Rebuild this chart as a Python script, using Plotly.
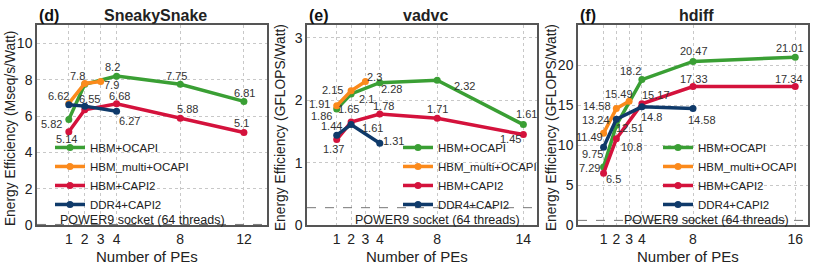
import plotly.graph_objects as go

# series names
series = ["HBM+OCAPI", "HBM_multi+OCAPI", "HBM+CAPI2", "DDR4+CAPI2"]
colors = ["#3a9f34", "#fb8a1c", "#d4123c", "#0f3a6a"]

# (d) SneakySnake
sneaky_x = [[1, 2, 4, 8, 12], [1, 2, 3], [1, 2, 4, 8, 12], [1, 2, 4]]
sneaky_y = [[5.82, 7.75, 8.2, 7.75, 6.81], [6.7, 7.8, 7.9],
            [5.14, 6.35, 6.68, 5.88, 5.1], [6.62, 6.55, 6.27]]
sneaky_lbl = [["5.82", "", "8.2", "7.75", "6.81"], ["", "7.8", "7.9"],
              ["5.14", "", "6.68", "5.88", "5.1"], ["6.62", "6.55", "6.27"]]

# (e) vadvc
vadvc_x = [[1, 2, 4, 8, 14], [1, 2, 3], [1, 2, 4, 8, 14], [1, 2, 4]]
vadvc_y = [[1.86, 2.1, 2.28, 2.32, 1.61], [1.91, 2.15, 2.3],
           [1.37, 1.65, 1.78, 1.71, 1.45], [1.44, 1.61, 1.31]]
vadvc_lbl = [["1.86", "2.1", "2.28", "2.32", "1.61"], ["1.91", "2.15", "2.3"],
             ["1.37", "1.65", "1.78", "1.71", "1.45"], ["1.44", "1.61", "1.31"]]

# (f) hdiff
hdiff_x = [[1, 2, 4, 8, 16], [1, 2, 3], [1, 2, 4, 8, 16], [1, 2, 4, 8]]
hdiff_y = [[7.29, 12.51, 18.2, 20.47, 21.01], [11.49, 14.58, 15.49],
           [6.5, 10.8, 15.17, 17.33, 17.34], [9.75, 13.24, 14.8, 14.58]]
hdiff_lbl = [["7.29", "12.51", "18.2", "20.47", "21.01"], ["11.49", "14.58", "15.49"],
             ["6.5", "10.8", "15.17", "17.33", "17.34"], ["9.75", "13.24", "14.8", "14.58"]]

# POWER9 socket baseline (64 threads)
power9 = [0.04, 0.28, 0.6]

panels = ["(d)", "(e)", "(f)"]
titles = ["SneakySnake", "vadvc", "hdiff"]
ylabels = ["Energy Efficiency (Mseq/s/Watt)", "Energy Efficiency (GFLOPS/Watt)",
           "Energy Efficiency (GFLOPS/Watt)"]
xticks = [[1, 2, 3, 4, 8, 12], [1, 2, 3, 4, 8, 14], [1, 2, 3, 4, 8, 16]]
yticks = [[0, 2, 4, 6, 8, 10], [0, 1, 2, 3], [0, 5, 10, 15, 20]]

# value label offsets in pixels (dx right, dy down) -- style only
offsets = [
    [[(-17, 5), (0, 0), (-4, -9), (-4, -8), (1, -8)],
     [(0, 0), (-7, -7), (11, 3)],
     [(-2, 7), (0, 0), (3, -8), (7, -9), (-2, -9)],
     [(-10, -9), (5, -7), (13, 10)]],
    [[(-15, 7), (15, 5), (12, 6), (27, 6), (3, -11)],
     [(-17, -2), (-19, -1), (9, -4)],
     [(-3, 9), (-3, -13), (4, -8), (0, -9), (-13, 4)],
     [(-5, -9), (21, 3), (14, -2)]],
    [[(-14, 1), (14, 3), (-11, -9), (1, -10), (-5, -9)],
     [(-14, 4), (-19, -3), (-10, -7)],
     [(10, 6), (15, 8), (14, -9), (1, -8), (-6, -7)],
     [(-11, 7), (-20, 1), (10, 10), (9, 11)]],
]

W, H = 830, 272
xdom = [(37, 267), (307, 537), (578, 808)]
xrng = [[-1, 13.45], [-1.07, 14.95], [-1, 17]]
yrng = [[0, 11], [0, 3.2], [0, 25]]
legx = [50, 398, 658]
p9x = [5.65, 8.0, 9.04]
ytop, ybot = 1 - 26 / H, 1 - 232 / H
font = "Liberation Sans, Arial, sans-serif"

fig = go.Figure()
data = [(sneaky_x, sneaky_y, sneaky_lbl), (vadvc_x, vadvc_y, vadvc_lbl), (hdiff_x, hdiff_y, hdiff_lbl)]
annotations = []
shapes = []


def note(text, x, y, size, color="#222", xref="paper", xanchor="center", angle=0):
    annotations.append(dict(text=text, xref=xref, yref="paper", x=x, y=y,
                            xanchor=xanchor, yanchor="middle", textangle=angle,
                            showarrow=False, font=dict(size=size, color=color)))


for p, (xs, ys, lbls) in enumerate(data):
    ax = "" if p == 0 else str(p + 1)
    leg = "legend" if p == 0 else "legend" + str(p + 1)
    for s in range(4):
        fig.add_trace(go.Scatter(
            x=xs[s], y=ys[s], name=series[s], mode="lines+markers",
            line=dict(color=colors[s], width=3.5),
            marker=dict(color=colors[s], size=7),
            xaxis="x" + ax, yaxis="y" + ax, legend=leg, cliponaxis=False))
        # value labels next to each point
        for i, t in enumerate(lbls[s]):
            if not t:
                continue
            dx, dy = offsets[p][s][i]
            annotations.append(dict(text=t, x=xs[s][i], y=ys[s][i], xref="x" + ax, yref="y" + ax,
                                    xshift=dx, yshift=-dy, showarrow=False,
                                    xanchor="center", yanchor="middle",
                                    font=dict(size=11, color="#333")))
    x0, x1 = xdom[p]
    axis_style = dict(tickfont=dict(size=14, color="#222"),
                      showgrid=True, gridcolor="#c8c8c8", griddash="dot", gridwidth=1,
                      showline=True, linecolor="#555", linewidth=1.5, mirror=True,
                      zeroline=False, ticks="")
    fig.layout["xaxis" + ax] = dict(domain=[x0 / W, x1 / W], range=xrng[p], anchor="y" + ax,
                                    tickvals=xticks[p], **axis_style)
    fig.layout["yaxis" + ax] = dict(domain=[ybot, ytop], range=yrng[p], anchor="x" + ax,
                                    tickvals=yticks[p], **axis_style)
    fig.layout[leg] = dict(x=legx[p] / W, y=1 - 137 / H, xanchor="left", yanchor="top",
                           bgcolor="rgba(0,0,0,0)", tracegroupgap=0,
                           font=dict(size=11.5, color="#222", family=font))
    shapes.append(dict(type="line", xref="x" + ax + " domain", yref="y" + ax,
                       x0=0, x1=1, y0=power9[p], y1=power9[p],
                       line=dict(color="#777", width=1, dash="dash")))
    note("POWER9 socket (64 threads)", p9x[p], 1 - 227 / H, 12.5, xref="x" + ax)
    note("<b>" + panels[p] + "</b>", x0 / W, 1 - 16 / H, 16, "#111", xanchor="left")
    note("<b>" + titles[p] + "</b>", ((x0 + x1) / 2 + 3) / W, 1 - 16 / H, 16)
    note("Number of PEs", ((x0 + x1) / 2 - 5) / W, 1 - 264 / H, 15)
    note(ylabels[p], (x0 - 27) / W, 1 - 132 / H, 13.8, angle=-90)

fig.update_layout(width=W, height=H, margin=dict(l=0, r=0, t=0, b=0),
                  plot_bgcolor="white", paper_bgcolor="white",
                  font=dict(family=font), annotations=annotations, shapes=shapes)
fig.write_html("out.html", config={"displayModeBar": False},
               post_script="document.body.style.margin='0';")
